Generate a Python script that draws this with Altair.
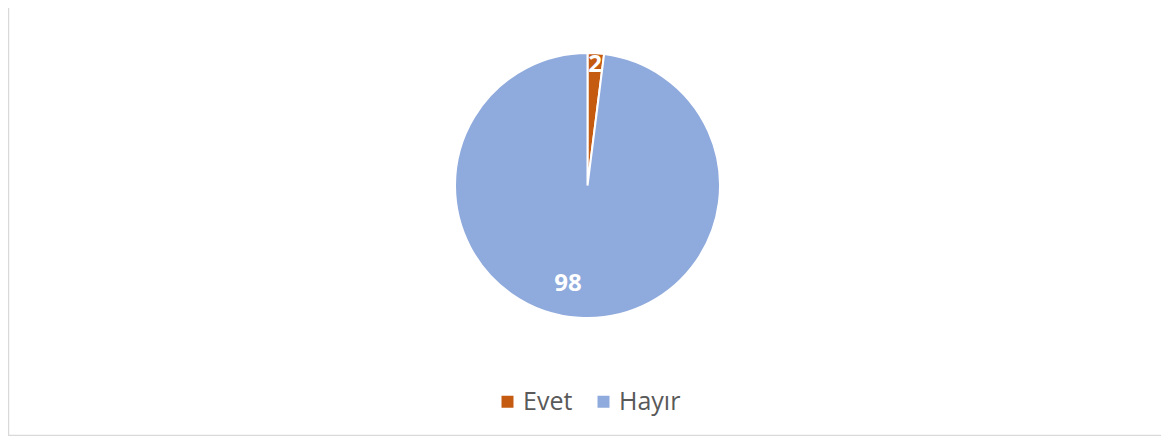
import altair as alt
import pandas as pd

categories = ["Evet", "Hayır"]
values = [2, 98]
colors = ["#C55A11", "#8FAADC"]

df = pd.DataFrame({"cat": categories, "val": values})

W, H = 1147, 355
PAD = {"left": 6, "top": 0, "right": 0, "bottom": 73}

base = alt.Chart(df).encode(
    theta=alt.Theta("val:Q", stack=True),
    order=alt.Order("cat:N", sort="ascending"),
)

pie = base.mark_arc(radius=132.5, stroke="white", strokeWidth=2).encode(
    color=alt.Color(
        "cat:N",
        scale=alt.Scale(domain=categories, range=colors),
        legend=alt.Legend(
            title=None,
            orient="none",
            legendX=481,
            legendY=381,
            direction="horizontal",
            symbolType="square",
            symbolSize=144,
            symbolStrokeWidth=0,
            labelFont="Open Sans",
            labelFontSize=25,
            labelColor="#595959",
            labelOffset=3,
            columnPadding=18,
            padding=0,
        ),
    )
)

lbl_small = base.transform_filter(alt.datum.cat == "Evet").mark_text(
    radius=121, font="Open Sans", fontSize=24, fontWeight="bold", color="white"
).encode(text="val:Q")

lbl_big = base.transform_filter(alt.datum.cat == "Hayır").mark_text(
    radius=100, thetaOffset=0.259, font="Open Sans", fontSize=24, fontWeight="bold", color="white"
).encode(text="val:Q")

frame_df = pd.DataFrame({"a": [0]})
left_border = alt.Chart(frame_df).mark_rule(color="#D9D9D9", strokeWidth=1.5).encode(
    x=alt.value(-5.5), y=alt.value(-10), y2=alt.value(427.5)
)
bottom_border = alt.Chart(frame_df).mark_rule(color="#D9D9D9", strokeWidth=1.5).encode(
    x=alt.value(-6), x2=alt.value(W + 10), y=alt.value(427.5)
)

chart = (
    alt.layer(pie, lbl_small, lbl_big, left_border, bottom_border)
    .properties(width=W, height=H, padding=PAD, autosize=alt.AutoSizeParams(type="none"))
    .configure(background="white")
    .configure_view(stroke="transparent", strokeWidth=0)
)

chart.save("out.html", embed_options={"renderer": "svg", "actions": False})
